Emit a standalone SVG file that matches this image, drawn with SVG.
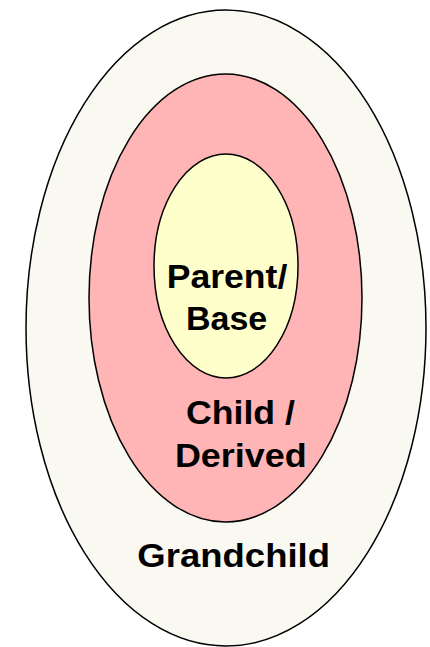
<svg xmlns="http://www.w3.org/2000/svg" width="430" height="647" viewBox="0 0 430 647">
<style>
.ring{stroke:#000;stroke-width:1.5}
.lbl{font-family:"Liberation Sans",Arial,sans-serif;font-weight:bold;font-size:34px;fill:#000;text-anchor:middle}
</style>
<rect width="430" height="647" fill="#fff"/>
<g id="grandchild">
<ellipse class="ring" cx="226" cy="328" rx="200" ry="318" fill="#F9F9F1"/>
<text class="lbl" x="233.7" y="566.7" textLength="192.7" lengthAdjust="spacingAndGlyphs">Grandchild</text>
</g>
<g id="child">
<ellipse class="ring" cx="225.5" cy="298" rx="136.5" ry="224" fill="#FFB5B5"/>
<text class="lbl" x="240.5" y="424" textLength="109" lengthAdjust="spacingAndGlyphs">Child /</text>
<text class="lbl" x="240.8" y="467.3" textLength="131.7" lengthAdjust="spacingAndGlyphs">Derived</text>
</g>
<g id="parent">
<ellipse class="ring" cx="226" cy="266" rx="72" ry="112" fill="#FFFFCC"/>
<text class="lbl" x="227" y="288" textLength="120.6" lengthAdjust="spacingAndGlyphs">Parent/</text>
<text class="lbl" x="226.6" y="330" textLength="81.3" lengthAdjust="spacingAndGlyphs">Base</text>
</g>
<g id="connectors"/>
</svg>
